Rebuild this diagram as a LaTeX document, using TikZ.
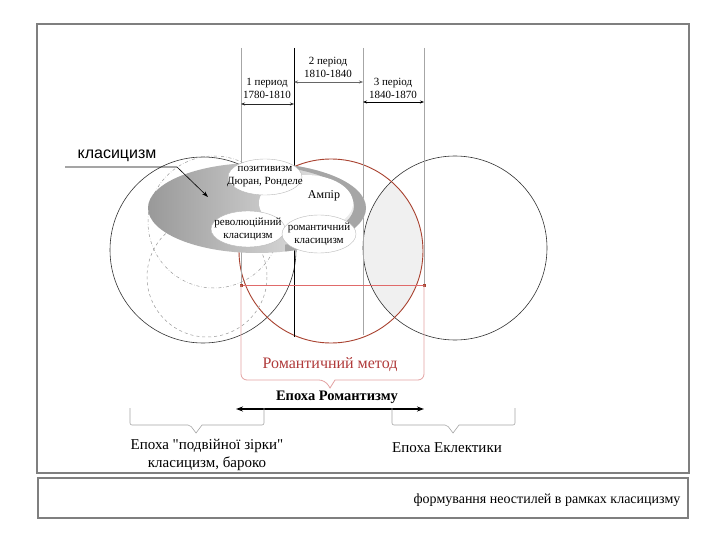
\documentclass[tikz,border=0pt]{standalone}
\usepackage{fontspec}
\setmainfont{Liberation Serif}
\newfontfamily\sansf{Liberation Sans}
\newfontfamily\qfont{Liberation Serif}
\usetikzlibrary{shapes.geometric,arrows.meta}
\definecolor{framegray}{HTML}{7F7F7F}
\definecolor{circred}{HTML}{A8412F}
\definecolor{boxred}{HTML}{E3A2A2}
\definecolor{txtred}{HTML}{B03A3A}
\definecolor{linered}{HTML}{E06A6A}
\tikzset{
  frame/.style={draw=framegray, line width=1.2pt},
  bigcirc/.style={draw=black!80, line width=0.6pt},
  vline/.style={draw=gray!70, line width=0.5pt},
  perarrow/.style={{Stealth[length=4pt,width=3pt]}-{Stealth[length=4pt,width=3pt]}, line width=0.7pt},
  pertext/.style={align=center, font=\fontsize{11}{13}\selectfont, inner sep=0pt},
  ell/.style={ellipse, draw=gray!55, fill=white, align=center, inner xsep=-12pt, inner ysep=-2pt,
     minimum width=74pt, minimum height=36pt, font=\fontsize{11}{13}\selectfont},
  brk/.style={draw=gray!70, line width=0.6pt, rounded corners=2pt},
  lbl/.style={font=\fontsize{15}{17}\selectfont, inner sep=0pt, align=center},
}
\begin{document}
\begin{tikzpicture}[x=1pt,y=-1pt]
\useasboundingbox (0,0) rectangle (720,540);
\fill[white] (0,0) rectangle (720,540);
% frames
\draw[frame] (37,24) rectangle (689,473);
\draw[frame] (38,478) rectangle (688,518);
% lens between red and right circle
\begin{scope}
\clip (331,251) circle (92);
\fill[gray!12] (455,248) circle (92);
\end{scope}
% big circles
\draw[bigcirc] (203,250) circle (93);
\draw[bigcirc] (455,248) circle (92);
\draw[circred, line width=0.9pt] (331,251) circle (92);
% dashed circles
\draw[gray!80, dash dot, line width=0.5pt] (214,222) circle (66);
\draw[gray!80, dashed, line width=0.5pt] (207,277) circle (60);
% vertical lines
\coordinate (a1) at (241,48); \coordinate (a2) at (241,285);
\coordinate (b1) at (294,48); \coordinate (b2) at (294,337);
\coordinate (c1) at (363,48); \coordinate (c2) at (363,335);
\coordinate (d1) at (424,48); \coordinate (d2) at (424,285);
\draw[vline] (a1) -- (a2);
\draw[black, line width=0.7pt] (b1) -- (b2);
\draw[vline] (c1) -- (c2);
\draw[vline] (d1) -- (d2);
\draw[linered, line width=0.6pt] (a2) -- (d2);
\fill[circred] (a2) ++(-1.5,-1.5) rectangle ++(3,3);
\fill[circred] (d2) ++(-1.5,-1.5) rectangle ++(3,3);
% period arrows and labels
\coordinate (p1l) at (241,104); \coordinate (p1r) at (294,104);
\coordinate (p2l) at (294,82); \coordinate (p2r) at (363,82);
\coordinate (p3l) at (363,102); \coordinate (p3r) at (424,102);
\draw[perarrow, black!85] (p1l) -- (p1r);
\draw[perarrow, gray!80!black, line width=0.5pt] (p2l) -- (p2r);
\draw[perarrow, black, line width=0.9pt] (p3l) -- (p3r);
\node[pertext] (t1) at (267,88.5) {1 период\\1780-1810};
\node[pertext] (t2) at (328,67) {2 період\\1810-1840};
\node[pertext] (t3) at (393,88.5) {3 період\\1840-1870};
% big gray ellipse
\shade[left color=gray!80, right color=gray!10] (257,208) ellipse [x radius=109, y radius=45];
\begin{scope}
\clip (257,208) ellipse [x radius=109, y radius=45];
\clip (285,150) rectangle (380,270);
\fill[gray!70, even odd rule] (280,150) rectangle (380,270) (250,206) ellipse [x radius=104, y radius=41];
\end{scope}
\fill[white] (306,203) ellipse [x radius=47, y radius=28];
% inner nodes
\node[ell] (poz) at (265,177) {позитивизм\\Дюран, Ронделе};
\node[font=\fontsize{12}{14}\selectfont] (amp) at (324,196) {Ампір};
\node[ell] (rev) at (248,229) {революційний\\класицизм};
\node[ell, minimum height=38pt] (rom) at (319,234) {романтичний\\класицизм};
% classicism label
\node[font=\sansf\fontsize{16}{18}\selectfont, inner sep=0pt] (klas) at (117,156) {класицизм};
\coordinate (k1) at (65,167); \coordinate (k2) at (177,167); \coordinate (k3) at (208,197);
\draw[line width=0.6pt, -{Stealth[length=6pt,width=4pt]}] (k1) -- (k2) -- (k3);
% romantic method callout
\draw[boxred, line width=0.8pt, rounded corners=6pt] (a2) -- (241,380) -- (325,380) [sharp corners] -- (330,388) -- (335,380) [rounded corners=6pt] -- (424,380) -- (d2);
\node[lbl, text=txtred, font=\fontsize{16}{18}\selectfont] (rm) at (330,365) {Романтичний метод};
% epoch of romanticism
\node[lbl, font=\bfseries\fontsize{14.5}{16}\selectfont] (er) at (337,397) {Епоха Романтизму};
\coordinate (e1) at (236,409); \coordinate (e2) at (424,409);
\draw[{Stealth[length=7pt,width=5pt]}-{Stealth[length=7pt,width=5pt]}, line width=1.2pt] (e1) -- (e2);
% brackets
\draw[brk] (130,408) -- (130,425) -- (190,425) [sharp corners] -- (196,433) -- (202,425) [rounded corners=2pt] -- (264,425) -- (264,408);
\draw[brk] (392,408) -- (392,425) -- (447,425) [sharp corners] -- (453,433) -- (459,425) [rounded corners=2pt] -- (515,425) -- (515,408);
\node[lbl] (dz) at (207,446) {Епоха {\qfont"}подвійної зірки{\qfont"}};
\node[lbl] (kb) at (207,464) {класицизм, бароко};
\node[lbl] (ek) at (447,448) {Епоха Еклектики};
% bottom caption
\node[lbl, font=\fontsize{14}{16}\selectfont] (cap) at (547,500) {формування неостилей в рамках класицизму};
\end{tikzpicture}
\end{document}
